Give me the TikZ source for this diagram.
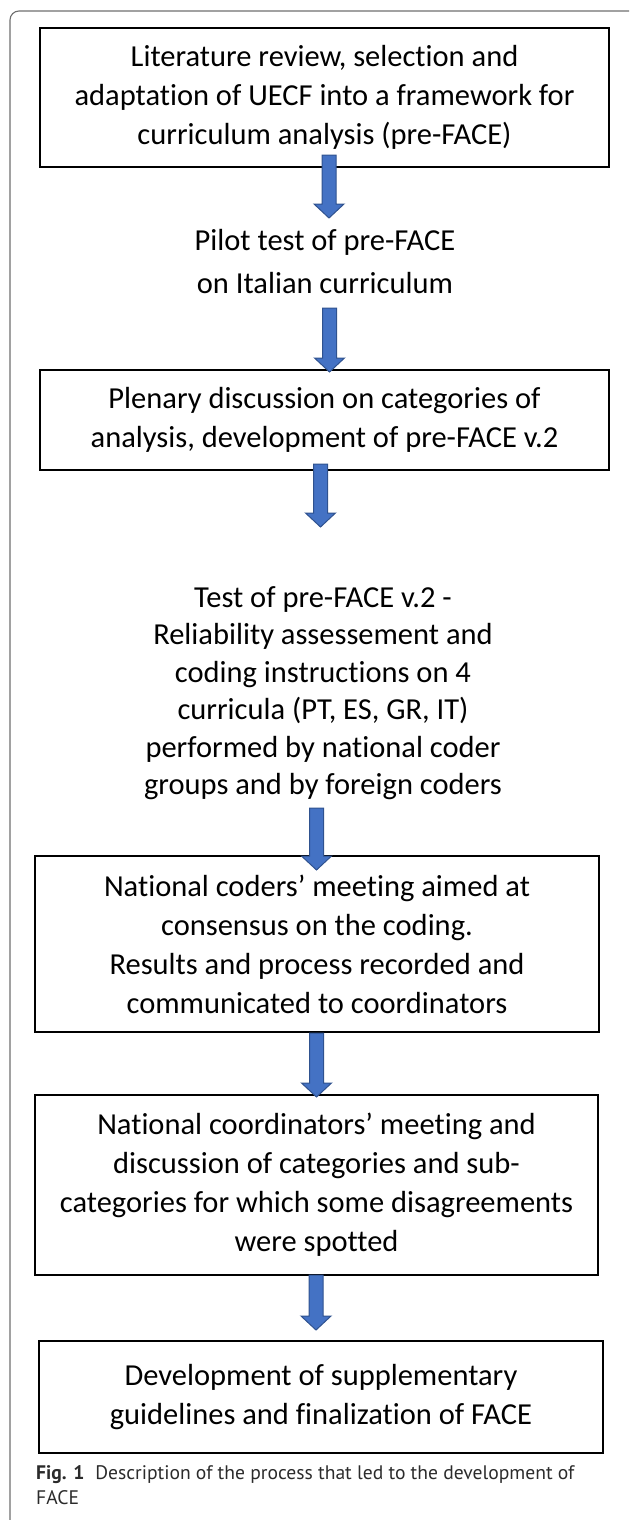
\documentclass[tikz,border=0pt]{standalone}
\usepackage{fontspec}
\setmainfont{Carlito}[RawFeature=-liga]
\newfontfamily\capfont{PT Sans}
\usetikzlibrary{calc}

\definecolor{arrowblue}{HTML}{4472C4}
\definecolor{arrowedge}{HTML}{2F528F}
\definecolor{framegray}{HTML}{6E6E6E}
\definecolor{captext}{HTML}{2B2B2B}

% down-pointing block arrow between two named coordinates
\newcommand{\blockarrow}[2]{%
  \draw[flowarrow] let \p1=(#1), \p2=(#2) in
    (\x1-7,\y1) -- (\x1+7,\y1) -- (\x1+7,\y2+14) -- (\x1+15,\y2+14)
    -- (\x1,\y2) -- (\x1-15,\y2+14) -- (\x1-7,\y2+14) -- cycle;}

\begin{document}
\begin{tikzpicture}[x=1pt, y=-1pt,
    stepbox/.style={draw, line width=2.4pt, align=center, inner sep=0pt,
      font=\fontsize{30.5}{39}\selectfont},
    freetext/.style={align=center, inner sep=0pt},
    flowarrow/.style={fill=arrowblue, draw=arrowedge, line width=1pt}]
    \useasboundingbox (0,0) rectangle (629,1520);
    \clip (0,0) rectangle (629,1520);
    \draw[framegray, line width=1.1pt, rounded corners=9pt] (10,11) rectangle (642,1532);

    % boxes and text
    \node[stepbox, minimum width=569, minimum height=139] (review) at (324.5,97.5)
        {Literature review, selection and\\adaptation of UECF into a framework for\\curriculum analysis (pre-FACE)};
    \node[freetext, font=\fontsize{30.5}{43}\selectfont] (pilot) at (325,261.5)
        {Pilot test of pre-FACE\\on Italian curriculum};
    \node[stepbox, minimum width=569, minimum height=100] (plenary) at (324.5,420)
        {Plenary discussion on categories of\\analysis, development of pre-FACE v.2};
    \node[freetext, font=\fontsize{30.5}{37.5}\selectfont] (testv2) at (323,693)
        {Test of pre-FACE v.2 -\\Reliability assessement and\\coding instructions on 4\\curricula (PT, ES, GR, IT)\\performed by national coder\\groups and by foreign coders};
    \node[stepbox, minimum width=564, minimum height=176] (coders) at (317,944)
        {National coders’ meeting aimed at\\consensus on the coding.\\Results and process recorded and\\communicated to coordinators};
    \node[stepbox, minimum width=563, minimum height=180] (coordinators) at (316.5,1185)
        {National coordinators’ meeting and\\discussion of categories and sub-\\categories for which some disagreements\\were spotted};
    \node[stepbox, minimum width=564, minimum height=112] (final) at (321,1397)
        {Development of supplementary\\guidelines and finalization of FACE};

    % arrows
    \coordinate (a1top) at (329,155);    \coordinate (a1tip) at (329,218);
    \coordinate (a2top) at (329.5,308);  \coordinate (a2tip) at (329.5,372);
    \coordinate (a3top) at (320.5,464);  \coordinate (a3tip) at (320.5,527);
    \coordinate (a4top) at (316.5,808);  \coordinate (a4tip) at (316.5,870);
    \coordinate (a5top) at (316.5,1033); \coordinate (a5tip) at (316.5,1097);
    \coordinate (a6top) at (316,1275);   \coordinate (a6tip) at (316,1330);
    \blockarrow{a1top}{a1tip}
    \blockarrow{a2top}{a2tip}
    \blockarrow{a3top}{a3tip}
    \blockarrow{a4top}{a4tip}
    \blockarrow{a5top}{a5tip}
    \blockarrow{a6top}{a6tip}

    % caption
    \node[anchor=west, align=left, inner sep=0pt, text=captext,
        font=\capfont\fontsize{19.6}{24.5}\selectfont] (caption) at (36,1485)
        {\textbf{Fig. 1}\hspace{0.55em}Description of the process that led to the development of\\FACE};
\end{tikzpicture}
\end{document}
